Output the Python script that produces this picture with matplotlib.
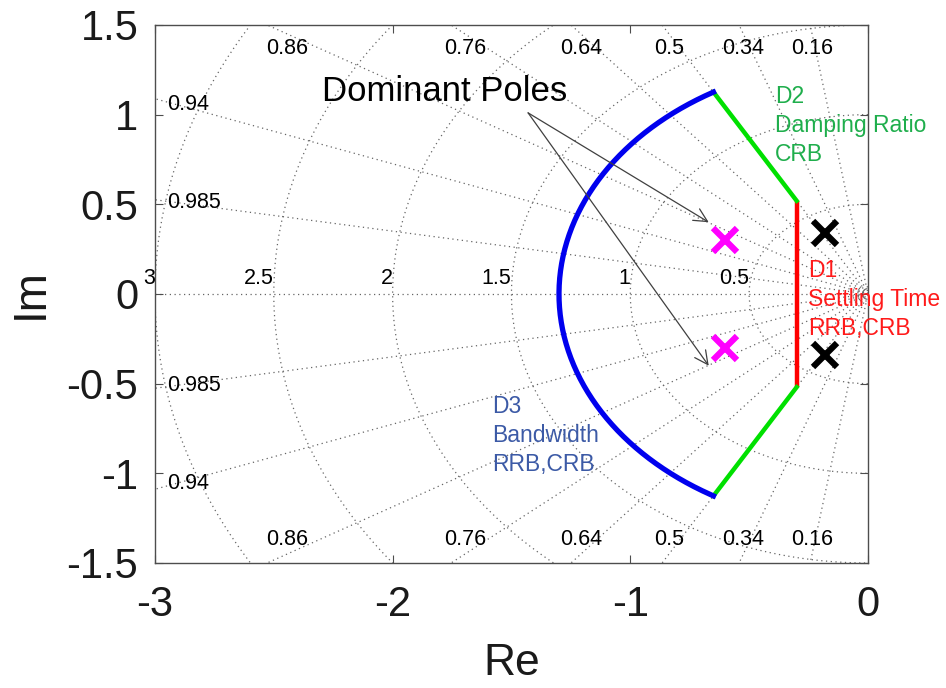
import numpy as np
import matplotlib.pyplot as plt

plt.rcParams['font.family'] = ['Liberation Sans', 'DejaVu Sans']

# s-plane grid values
zetas = [0.16, 0.34, 0.5, 0.64, 0.76, 0.86, 0.94, 0.985]
wns = [0.5, 1.0, 1.5, 2.0, 2.5, 3.0]
wn_labels = ['0.5', '1', '1.5', '2', '2.5', '3']

# design region boundaries
sigma_min = 0.3      # D1: settling time
zeta_min = 0.5       # D2: damping ratio
wn_max = 1.3         # D3: bandwidth

# poles
dom_re = [-0.6, -0.6]
dom_im = [0.3, -0.3]
other_re = [-0.18, -0.18]
other_im = [0.34, -0.34]

xmin, xmax, ymin, ymax = -3, 0, -1.5, 1.5

fig = plt.figure(figsize=(9.46, 6.88), dpi=100)
ax = fig.add_axes([0.1638, 0.1817, 0.7537, 0.782])
ax.set_xlim(xmin, xmax)
ax.set_ylim(ymin, ymax)

grid_kw = dict(color='0.4', linestyle=(0, (1, 2.8)), linewidth=0.9, zorder=1)
small = 15.5

# constant damping lines
for z in zetas:
    wd = np.sqrt(1 - z ** 2)
    # extend out to the frame
    r = min(abs(xmin) / z, ymax / wd)
    for sgn in (1, -1):
        ax.plot([0, -z * r], [0, sgn * wd * r], **grid_kw)
    if ymax / wd * z <= abs(xmin):
        xl = -ymax * z / wd * 0.967
        ax.text(xl, 1.37, f'{z:g}', ha='center', va='center', fontsize=small)
        ax.text(xl, -1.37, f'{z:g}', ha='center', va='center', fontsize=small)
    else:
        yl = abs(xmin) * wd / z * 0.97
        ax.text(-2.95, yl, f'{z:g}', ha='left', va='center', fontsize=small)
        ax.text(-2.95, -yl, f'{z:g}', ha='left', va='center', fontsize=small)
ax.plot([xmin, 0], [0, 0], **grid_kw)

# constant natural frequency circles
th = np.linspace(np.pi / 2, 3 * np.pi / 2, 300)
for wn, lab in zip(wns, wn_labels):
    ax.plot(wn * np.cos(th), wn * np.sin(th), **grid_kw)
    ax.text(-wn, 0.025, lab, ha='right', va='bottom', fontsize=small)
for wn in (0.02, 0.04):
    ax.plot(wn * np.cos(th), wn * np.sin(th), **grid_kw)

# design region
yb = sigma_min * np.sqrt(1 - zeta_min ** 2) / zeta_min
ax.plot([-sigma_min, -sigma_min], [-yb, yb], color='#ff0000', lw=3.2, zorder=3,
        solid_capstyle='butt')
wdz = np.sqrt(1 - zeta_min ** 2)
for sgn in (1, -1):
    ax.plot([-sigma_min, -zeta_min * wn_max], [sgn * yb, sgn * wdz * wn_max],
            color='#00e000', lw=3.2, zorder=3)
ang = np.arccos(zeta_min)
tb = np.linspace(np.pi - ang, np.pi + ang, 200)
ax.plot(wn_max * np.cos(tb), wn_max * np.sin(tb), color='#0000ee', lw=3.8, zorder=3)

# poles
ax.plot(dom_re, dom_im, 'x', color='#ff00ff', ms=17, mew=4.5, zorder=4)
ax.plot(other_re, other_im, 'x', color='black', ms=17, mew=4.5, zorder=4)

# labels
ax.text(-1.78, 1.13, 'Dominant Poles', ha='center', va='center', fontsize=25)
for ty in dom_im:
    ax.annotate('', xy=(-0.67, ty + 0.1 * np.sign(ty)), xytext=(-1.43, 1.01),
                arrowprops=dict(arrowstyle='->', color='0.25', lw=0.9,
                                mutation_scale=24, shrinkA=0, shrinkB=0))
dkw = dict(fontsize=16.5, va='top', ha='left', linespacing=1.34)
ax.text(-0.39, 1.168, 'D2\nDamping Ratio\nCRB', color='#1fae4c', **dkw)
ax.text(-0.253, 0.196, 'D1\nSettling Time\nRRB,CRB', color='#ff1a1a', **dkw)
ax.text(-1.58, -0.564, 'D3\nBandwidth\nRRB,CRB', color='#3c5aa6', **dkw)

ax.set_xticks([-3, -2, -1, 0])
ax.set_yticks([-1.5, -1, -0.5, 0, 0.5, 1, 1.5])
ax.set_xticklabels(['-3', '-2', '-1', '0'])
ax.set_yticklabels(['-1.5', '-1', '-0.5', '0', '0.5', '1', '1.5'])
ax.tick_params(direction='in', top=True, right=True, labelsize=30, length=6,
               color='0.3', labelcolor='0.1')
ax.tick_params(axis='x', pad=16)
ax.tick_params(axis='y', pad=12)
for s in ax.spines.values():
    s.set_color('0.3')
    s.set_linewidth(1.0)

ax.set_xlabel('Re', fontsize=32, labelpad=13, color='0.1')
ax.set_ylabel('Im', fontsize=33, labelpad=10, color='0.1')

fig.savefig('out.png', dpi=100)
